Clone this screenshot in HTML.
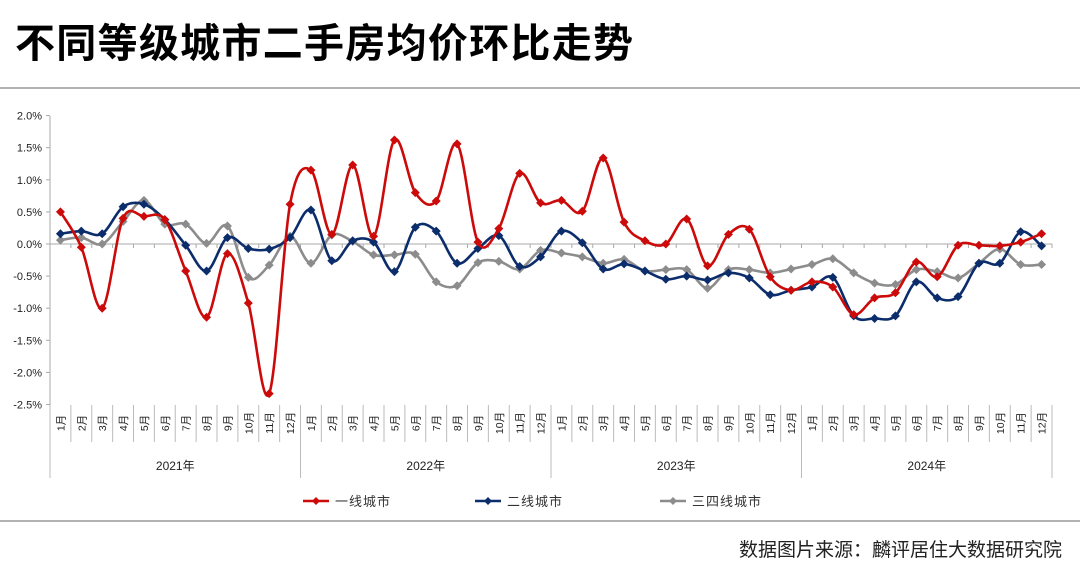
<!DOCTYPE html>
<html><head><meta charset="utf-8"><style>
body{margin:0;background:#fff;width:1080px;height:579px;overflow:hidden;font-family:"Liberation Sans","Noto Sans CJK SC",sans-serif}
</style></head><body>
<svg id="s" width="1080" height="579" xmlns="http://www.w3.org/2000/svg" font-family="Liberation Sans, Noto Sans CJK SC, sans-serif">
<text x="15" y="57" font-size="40" font-weight="bold" fill="#000" font-family="Noto Sans CJK SC, sans-serif" textLength="618" lengthAdjust="spacing">不同等级城市二手房均价环比走势</text>
<line x1="0" y1="88" x2="1080" y2="88" stroke="#999" stroke-width="1.5"/>
<line x1="0" y1="521" x2="1080" y2="521" stroke="#999" stroke-width="1.5"/>
<text x="1062" y="556" font-size="19" text-anchor="end" fill="#222" font-family="Noto Sans CJK SC, sans-serif">数据图片来源：麟评居住大数据研究院</text>
</svg>
<script>
const s=document.getElementById('s');const NS='http://www.w3.org/2000/svg';
function el(t,a,txt){const e=document.createElementNS(NS,t);for(const k in a)e.setAttribute(k,a[k]);if(txt!=null)e.textContent=txt;s.appendChild(e);return e;}
const X0=50,X1=1052,W=(X1-X0)/48,Y0=244,K=64.2;
const X=i=>X0+W*(i+0.5),Y=v=>Y0-v*K;
el('line',{x1:X0,y1:116,x2:X0,y2:478,stroke:'#aaa','stroke-width':1});
for(let i=0;i<10;i++){const v=2-0.5*i,y=Y(v);el('line',{x1:X0-4,y1:y,x2:X0,y2:y,stroke:'#aaa'});
el('text',{x:42,y:y+4,'font-size':11,'text-anchor':'end',fill:'#222'},(v<0?'-':'')+Math.abs(v).toFixed(1)+'%');}
el('line',{x1:X0,y1:Y0,x2:X1,y2:Y0,stroke:'#aaa'});
for(let i=0;i<=48;i++){const x=X0+W*i;el('line',{x1:x,y1:Y0,x2:x,y2:Y0+4,stroke:'#aaa'});
el('line',{x1:x,y1:405,x2:x,y2:i%12==0?478:442,stroke:'#bbb'});}
for(let i=0;i<48;i++){const x=X(i)+4,y=423;el('text',{x:x,y:y,'font-size':10.5,'text-anchor':'middle',fill:'#222',transform:`rotate(-90 ${x} ${y})`},(i%12+1)+'月');}
['2021年','2022年','2023年','2024年'].forEach((t,k)=>el('text',{x:X0+W*(12*k+6),y:470,'font-size':12,'text-anchor':'middle',fill:'#222'},t));
const R=[0.5,-0.05,-1.0,0.4,0.43,0.38,-0.42,-1.14,-0.15,-0.92,-2.33,0.62,1.15,0.15,1.23,0.12,1.62,0.8,0.67,1.56,0.03,0.24,1.1,0.64,0.68,0.51,1.34,0.34,0.05,0,0.39,-0.34,0.15,0.23,-0.51,-0.72,-0.59,-0.67,-1.1,-0.84,-0.76,-0.28,-0.51,-0.02,-0.02,-0.03,0.03,0.16];
const B=[0.16,0.2,0.16,0.58,0.62,0.38,-0.02,-0.42,0.1,-0.07,-0.08,0.1,0.53,-0.26,0.05,0.03,-0.43,0.26,0.2,-0.3,-0.07,0.13,-0.35,-0.2,0.2,0.02,-0.39,-0.31,-0.42,-0.55,-0.5,-0.56,-0.45,-0.53,-0.79,-0.72,-0.67,-0.52,-1.12,-1.16,-1.12,-0.59,-0.84,-0.82,-0.3,-0.3,0.19,-0.03];
const G=[0.06,0.1,0.0,0.35,0.68,0.31,0.31,0.01,0.28,-0.52,-0.33,0.12,-0.3,0.14,0.04,-0.17,-0.17,-0.16,-0.59,-0.65,-0.29,-0.27,-0.39,-0.1,-0.14,-0.2,-0.3,-0.24,-0.42,-0.4,-0.4,-0.69,-0.4,-0.4,-0.45,-0.39,-0.32,-0.23,-0.45,-0.61,-0.63,-0.4,-0.43,-0.53,-0.3,-0.08,-0.32,-0.32];
function series(d,c){const p=d.map((v,i)=>[X(i),Y(v)]);let s='M'+p[0];const t=1/6;
for(let i=0;i<p.length-1;i++){const a=p[Math.max(0,i-1)],b=p[i],c2=p[i+1],e=p[Math.min(p.length-1,i+2)];
s+=` C${b[0]+(c2[0]-a[0])*t},${b[1]+(c2[1]-a[1])*t} ${c2[0]-(e[0]-b[0])*t},${c2[1]-(e[1]-b[1])*t} ${c2[0]},${c2[1]}`;}
el('path',{d:s,fill:'none',stroke:c,'stroke-width':2.6});
p.forEach(q=>el('path',{d:`M${q[0]},${q[1]-4.5}L${q[0]+4.5},${q[1]}L${q[0]},${q[1]+4.5}L${q[0]-4.5},${q[1]}Z`,fill:c}));}
series(G,'#8c8c8c');series(B,'#0c2d6b');series(R,'#cc0a0a');
[[303,'#cc0a0a','一线城市'],[475,'#0c2d6b','二线城市'],[660,'#8c8c8c','三四线城市']].forEach(([x,c,t])=>{
el('line',{x1:x,y1:501,x2:x+26,y2:501,stroke:c,'stroke-width':2.6});
el('path',{d:`M${x+13},${497}L${x+17},501L${x+13},505L${x+9},501Z`,fill:c});
el('text',{x:x+32,y:506,'font-size':13,fill:'#333','letter-spacing':1},t);});
</script>
</body></html>
